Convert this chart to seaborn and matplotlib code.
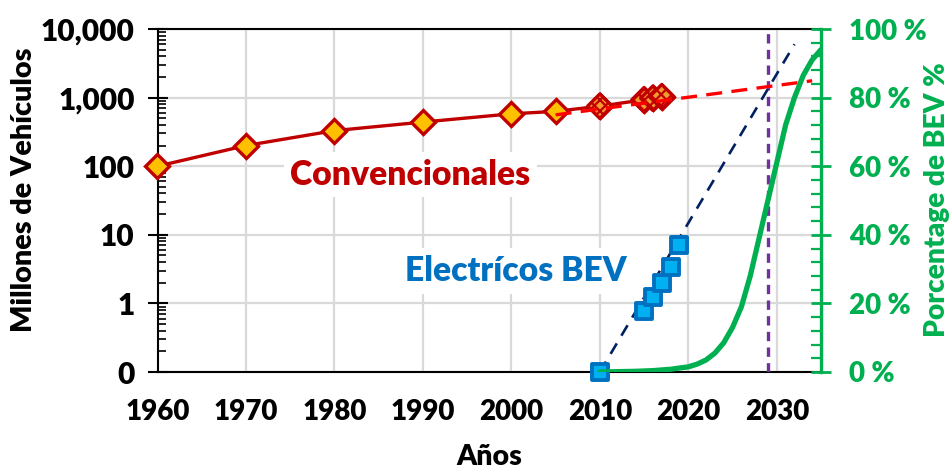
import matplotlib
matplotlib.use("Agg")
import matplotlib.pyplot as plt
import seaborn as sns
from matplotlib.ticker import (FixedLocator, FixedFormatter, MultipleLocator,
                               LogLocator, NullFormatter)

# Conventional vehicle fleet, millions
conv_years = [1960, 1970, 1980, 1990, 2000, 2005, 2010, 2015, 2016, 2017]
conv_values = [100, 200, 330, 440, 580, 630, 750, 930, 980, 1030]

# recent conventional points shown with a patterned fill
conv_recent_years = [2010, 2015, 2016, 2017]
conv_recent_values = [750, 930, 980, 1030]

# exponential trend for the conventional fleet
conv_trend_years = [2005, 2034]
conv_trend_values = [560, 1760]

# battery electric fleet, millions (2010 sits on the axis floor)
bev_years = [2010, 2015, 2016, 2017, 2018, 2019]
bev_values = [0.1, 0.78, 1.25, 2.0, 3.4, 7.0]

# exponential trend for the BEV fleet
bev_trend_years = [2010, 2032]
bev_trend_values = [0.1, 6000]

# BEV share of the fleet, %
share_years = [2010, 2012, 2014, 2016, 2018, 2020, 2021, 2022, 2023, 2024,
               2025, 2026, 2027, 2028, 2029, 2030, 2031, 2032, 2033, 2034, 2035]
share_pct = [0.0, 0.1, 0.2, 0.4, 0.8, 1.5, 2.3, 3.5, 5.5, 8.5,
             13, 19, 28, 39, 50, 61, 72, 80, 86.5, 91, 94]

crossover_year = 2029

year_ticks = [1960, 1970, 1980, 1990, 2000, 2010, 2020, 2030]
left_ticks = [0.1, 1, 10, 100, 1000, 10000]
left_labels = ["0", "1", "10", "100", "1,000", "10,000"]
right_ticks = [0, 20, 40, 60, 80, 100]
right_labels = ["0 %", "20 %", "40 %", "60 %", "80 %", "100 %"]

DARK_RED = "#C00000"
GOLD = "#FFC000"
ORANGE = "#F29A2E"
RED = "#FF0000"
NAVY = "#002060"
BEV_FILL = "#00B0F0"
BEV_EDGE = "#0070C0"
GREEN = "#00B050"
PURPLE = "#7030A0"
GRID = "#D9D9D9"
WEIGHT = "heavy"

sns.set_style("white")
plt.rcParams["font.family"] = ["Lato", "DejaVu Sans"]
plt.rcParams["font.weight"] = WEIGHT
plt.rcParams["text.color"] = "black"
plt.rcParams["xtick.color"] = "black"
plt.rcParams["ytick.color"] = "black"

W, H = 952, 471
fig = plt.figure(figsize=(W / 100, H / 100), dpi=100)
L, R, T, B = 157.5, 821, 29, 372
ax = fig.add_axes([L / W, 1 - B / H, (R - L) / W, (B - T) / H])
ax.set_yscale("log")
ax.set_xlim(1960, 2035)
ax.set_ylim(0.1, 10000)


def fit_length(text, target_px, vertical=False):
    """Scale a text's font so its extent along the reading direction is target_px."""
    renderer = fig.canvas.get_renderer()
    bb = text.get_window_extent(renderer)
    current = bb.height if vertical else bb.width
    text.set_fontsize(text.get_fontsize() * target_px / current)


# grid
ax.set_axisbelow(True)
ax.grid(True, which="major", color=GRID, lw=1.6)

# crossover marker
ax.axvline(crossover_year, color=PURPLE, lw=2.4, ls=(0, (2.8, 1.9)), zorder=3)

# conventional fleet
sns.lineplot(x=conv_years, y=conv_values, ax=ax, color=DARK_RED, lw=2.4,
             marker="D", markersize=12.5, markerfacecolor=GOLD,
             markeredgecolor=DARK_RED, markeredgewidth=2.4, clip_on=False,
             zorder=4)
with plt.rc_context({"hatch.color": GOLD, "hatch.linewidth": 1.6}):
    sns.scatterplot(x=conv_recent_years, y=conv_recent_values, ax=ax,
                    marker="D", s=156, color=ORANGE, edgecolor=DARK_RED,
                    linewidth=2.4, hatch="xxx", zorder=5)
sns.lineplot(x=conv_trend_years, y=conv_trend_values, ax=ax, color=RED,
             lw=2.4, ls=(0, (4.8, 2.8)), zorder=6)

# electric fleet
sns.lineplot(x=bev_trend_years, y=bev_trend_values, ax=ax, color=NAVY,
             lw=1.9, ls=(0, (4.6, 3.4)), zorder=4)
sns.scatterplot(x=bev_years, y=bev_values, ax=ax, marker="s", s=120,
                color=BEV_FILL, edgecolor=BEV_EDGE, linewidth=2.8,
                clip_on=False, zorder=6)

# labels on the chart
conv_label = ax.text(1988.6, 54, "Convencionales", color=DARK_RED,
                     fontsize=25, fontweight=WEIGHT, ha="center",
                     va="baseline", zorder=7,
                     bbox=dict(facecolor="white", edgecolor="none", pad=5))
fit_length(conv_label, 240)
ax.text(2013.0, 2.1, "Electrícos BEV", color=BEV_EDGE,
        fontsize=conv_label.get_fontsize(), fontweight=WEIGHT, ha="right",
        va="baseline", zorder=7,
        bbox=dict(facecolor="white", edgecolor="none", pad=5))

# left axis styling
ax.xaxis.set_major_locator(FixedLocator(year_ticks))
ax.xaxis.set_minor_locator(MultipleLocator(2))
ax.yaxis.set_major_locator(FixedLocator(left_ticks))
ax.yaxis.set_major_formatter(FixedFormatter(left_labels))
ax.yaxis.set_minor_locator(LogLocator(base=10, subs=range(2, 10)))
ax.yaxis.set_minor_formatter(NullFormatter())
ax.tick_params(which="major", direction="inout", length=15, width=1.5,
               color="black", labelcolor="black")
ax.tick_params(which="minor", direction="in", length=6, width=1.2,
               color="black")
ax.tick_params(axis="x", which="major", labelsize=20, pad=12)
ax.tick_params(axis="y", which="major", labelsize=21.5, pad=9)
for lab in ax.get_xticklabels() + ax.get_yticklabels():
    lab.set_fontweight(WEIGHT)
for side in ["left", "bottom", "top"]:
    ax.spines[side].set_color("black")
    ax.spines[side].set_linewidth(1.5)
ax.spines["right"].set_visible(False)
ax.set_xlabel("")
ax.set_ylabel("")

# right axis: BEV share
ax2 = ax.twinx()
sns.lineplot(x=share_years, y=share_pct, ax=ax2, color=GREEN, lw=3.8,
             zorder=5)
ax2.set_ylim(0, 100)
ax2.set_xlim(1960, 2035)
ax2.yaxis.set_major_locator(FixedLocator(right_ticks))
ax2.yaxis.set_major_formatter(FixedFormatter(right_labels))
ax2.yaxis.set_minor_locator(MultipleLocator(4))
ax2.tick_params(axis="y", which="major", direction="inout", length=15,
                width=2, colors=GREEN, labelsize=20, pad=13)
ax2.tick_params(axis="y", which="minor", direction="in", length=7,
                width=1.6, color=GREEN)
for lab in ax2.get_yticklabels():
    lab.set_fontweight(WEIGHT)
for side in ["left", "bottom", "top"]:
    ax2.spines[side].set_visible(False)
ax2.spines["right"].set_color(GREEN)
ax2.spines["right"].set_linewidth(2.4)
ax2.set_xlabel("")
ax2.set_ylabel("")

# axis titles
left_title = fig.text(24 / W, 1 - 189.5 / H, "Millones de Vehículos",
                      rotation=90, ha="center", va="center", fontsize=20,
                      fontweight=WEIGHT)
fit_length(left_title, 285, vertical=True)
right_title = fig.text(937 / W, 1 - 199.5 / H, "Porcentage de BEV %",
                       rotation=90, ha="center", va="center", fontsize=18,
                       fontweight=WEIGHT, color=GREEN)
fit_length(right_title, 275, vertical=True)
x_title = fig.text(489 / W, 1 - 457 / H, "Años", ha="center", va="center",
                   fontsize=21.5, fontweight=WEIGHT)
fit_length(x_title, 66)

fig.savefig("out.png", dpi=100)
